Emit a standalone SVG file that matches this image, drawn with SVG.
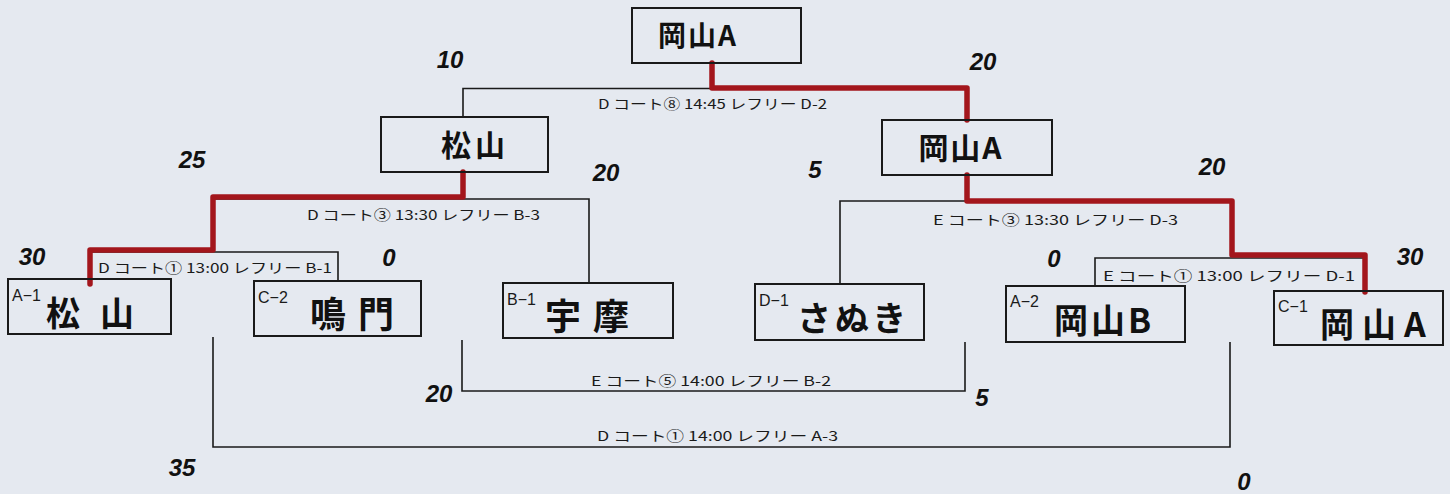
<svg xmlns="http://www.w3.org/2000/svg" width="1450" height="494" viewBox="0 0 1450 494">
<style>
.bg{fill:#e5e9f0}
.box{fill:none;stroke:#1a1a1a;stroke-width:2}
.ln{fill:none;stroke:#1a1a1a;stroke-width:1.6}
.red{fill:none;stroke:#a3161c;stroke-width:5.5;stroke-linejoin:round;stroke-linecap:round}
.lbl{font-family:"Noto Sans CJK JP","Noto Sans",sans-serif;font-size:13.5px;fill:#1a1a1a}
.tag{font-family:"Liberation Sans","Noto Sans CJK JP",sans-serif;font-size:16px;fill:#1a1a1a}
.nm{font-family:"Noto Sans CJK JP",sans-serif;font-weight:700;fill:#111}
.sc{font-family:"Liberation Sans",sans-serif;font-style:italic;font-weight:700;font-size:24px;fill:#111}
</style>
<rect class="bg" x="0" y="0" width="1450" height="494"/>
<g id="connectors">
  <path class="ln" d="M463,117 V88.5 H967"/>
  <path class="ln" d="M213,199 H589 V283"/>
  <path class="ln" d="M90,252 H338 V281"/>
  <path class="ln" d="M840,284 V201 H1233"/>
  <path class="ln" d="M1095,286 V258 H1365"/>
  <path class="ln" d="M462,340 V391 H965 V342"/>
  <path class="ln" d="M213,337 V447 H1230 V342"/>
  <path class="red" d="M712,63 V88 H967 V120"/>
  <path class="red" d="M463,172 V197 H213 V250 H90 V284"/>
  <path class="red" d="M967,175 V201 H1232 V255 H1365 V292"/>
  <text class="lbl" x="598" y="109" textLength="229" lengthAdjust="spacingAndGlyphs">D コート⑧ 14:45 レフリー D-2</text>
  <text class="lbl" x="307" y="220" textLength="233" lengthAdjust="spacingAndGlyphs">D コート③ 13:30  レフリー B-3</text>
  <text class="lbl" x="98" y="273" textLength="234" lengthAdjust="spacingAndGlyphs">D コート① 13:00  レフリー B-1</text>
  <text class="lbl" x="933" y="225" textLength="245" lengthAdjust="spacingAndGlyphs">E コート③ 13:30  レフリー D-3</text>
  <text class="lbl" x="1103" y="281" textLength="252" lengthAdjust="spacingAndGlyphs">E コート①  13:00  レフリー D-1</text>
  <text class="lbl" x="591" y="386" textLength="240" lengthAdjust="spacingAndGlyphs">E コート⑤ 14:00  レフリー B-2</text>
  <text class="lbl" x="597" y="441" textLength="241" lengthAdjust="spacingAndGlyphs">D コート① 14:00  レフリー A-3</text>
</g>
<g id="final">
  <rect class="box" x="632" y="8" width="169" height="55"/>
  <text class="nm" x="698" y="46" font-size="28" text-anchor="middle" letter-spacing="2">岡山A</text>
</g>
<g id="semi-left">
  <rect class="box" x="381" y="117" width="167" height="55"/>
  <text class="nm" x="475" y="156" font-size="30" text-anchor="middle" letter-spacing="4">松山</text>
</g>
<g id="semi-right">
  <rect class="box" x="882" y="120" width="170" height="55"/>
  <text class="nm" x="961" y="159" font-size="30" text-anchor="middle" letter-spacing="2">岡山A</text>
</g>
<g id="a1">
  <rect class="box" x="8" y="279" width="163" height="55"/>
  <text class="tag" x="12" y="301">A−1</text>
  <text class="nm" x="46" y="326" font-size="34" letter-spacing="20">松山</text>
</g>
<g id="c2">
  <rect class="box" x="254" y="281" width="167" height="55"/>
  <text class="tag" x="258" y="303">C−2</text>
  <text class="nm" x="310" y="328" font-size="36" letter-spacing="12">鳴門</text>
</g>
<g id="b1">
  <rect class="box" x="503" y="283" width="170" height="55"/>
  <text class="tag" x="507" y="305">B−1</text>
  <text class="nm" x="545" y="330" font-size="36" letter-spacing="12">宇摩</text>
</g>
<g id="d1">
  <rect class="box" x="755" y="284" width="169" height="56"/>
  <text class="tag" x="759" y="306">D−1</text>
  <text class="nm" x="797" y="331" font-size="34" letter-spacing="4">さぬき</text>
</g>
<g id="a2">
  <rect class="box" x="1006" y="286" width="179" height="56"/>
  <text class="tag" x="1010" y="307">A−2</text>
  <text class="nm" x="1054" y="333" font-size="34" letter-spacing="3">岡山B</text>
</g>
<g id="c1">
  <rect class="box" x="1274" y="291" width="169" height="54"/>
  <text class="tag" x="1278" y="312">C−1</text>
  <text class="nm" x="1320" y="337" font-size="34" letter-spacing="8">岡山A</text>
</g>
<g id="scores">
  <text class="sc" x="450" y="68" text-anchor="middle" font-size="22">10</text>
  <text class="sc" x="983" y="70" text-anchor="middle" font-size="18">20</text>
  <text class="sc" x="192" y="168" text-anchor="middle" font-size="28">25</text>
  <text class="sc" x="606" y="181" text-anchor="middle">20</text>
  <text class="sc" x="815" y="178" text-anchor="middle" font-size="26">5</text>
  <text class="sc" x="1212" y="175" text-anchor="middle" font-size="28">20</text>
  <text class="sc" x="32" y="265" text-anchor="middle">30</text>
  <text class="sc" x="389" y="266" text-anchor="middle">0</text>
  <text class="sc" x="1054" y="267" text-anchor="middle">0</text>
  <text class="sc" x="1410" y="265" text-anchor="middle">30</text>
  <text class="sc" x="439" y="402" text-anchor="middle">20</text>
  <text class="sc" x="982" y="406" text-anchor="middle" font-size="28">5</text>
  <text class="sc" x="182" y="476" text-anchor="middle" font-size="28">35</text>
  <text class="sc" x="1244" y="490" text-anchor="middle">0</text>
</g>
</svg>
